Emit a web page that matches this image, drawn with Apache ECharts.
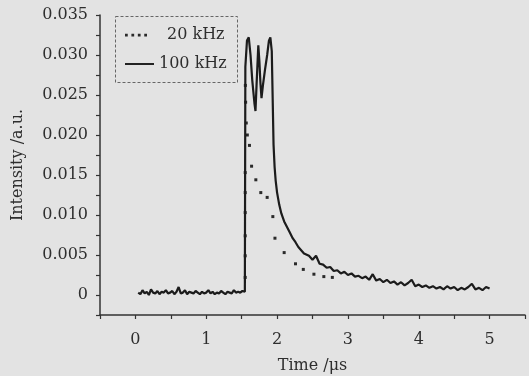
<!DOCTYPE html>
<html>
<head>
<meta charset="utf-8">
<script src="https://cdn.jsdelivr.net/npm/echarts@6/dist/echarts.min.js"></script>
<style>
html,body{margin:0;padding:0;background:#e3e3e3;}
#c{width:529px;height:376px;}
</style>
</head>
<body>
<div id="c"></div>
<script>
// ---- data ----
var xTicks = [0, 1, 2, 3, 4, 5];
var yTicks = [0, 0.005, 0.010, 0.015, 0.020, 0.025, 0.030, 0.035];

var t100 = [0.04,0.07,0.10,0.13,0.16,0.19,0.22,0.25,0.28,0.31,0.34,0.37,0.40,0.43,0.46,0.49,0.52,0.55,0.58,0.61,0.64,0.67,0.70,0.73,0.76,0.79,0.82,0.85,0.88,0.91,0.94,0.97,1.00,1.03,1.06,1.09,1.12,1.15,1.18,1.21,1.24,1.27,1.30,1.33,1.36,1.39,1.42,1.45,1.48,1.51,1.545,
  1.552,1.575,1.60,1.625,1.65,1.68,1.695,1.71,1.735,1.75,1.765,1.78,1.80,1.83,1.86,1.885,1.905,1.925,1.94,1.95,1.965,1.98,
  2.00,2.03,2.06,2.10,2.14,2.18,2.22,2.26,2.30,2.34,2.38,
  2.40,2.45,2.50,2.55,2.60,2.65,2.70,2.75,2.80,2.85,2.90,2.95,3.00,3.05,3.10,3.15,3.20,3.25,3.30,3.35,3.40,3.45,3.50,3.55,3.60,3.65,3.70,3.75,3.80,3.85,3.90,3.95,4.00,4.05,4.10,4.15,4.20,4.25,4.30,4.35,4.40,4.45,4.50,4.55,4.60,4.65,4.70,4.75,4.80,4.85,4.90,4.95,5.00];
var v100 = [0.0003,0.0001,0.0006,0.0002,0.0004,0.0000,0.0007,0.0003,0.0002,0.0005,0.0001,0.0004,0.0003,0.0006,0.0002,0.0003,0.0005,0.0001,0.0004,0.0010,0.0002,0.0003,0.0006,0.0001,0.0004,0.0003,0.0002,0.0005,0.0003,0.0001,0.0004,0.0002,0.0003,0.0006,0.0002,0.0004,0.0001,0.0003,0.0002,0.0005,0.0003,0.0001,0.0004,0.0003,0.0002,0.0006,0.0003,0.0004,0.0003,0.0005,0.0004,
  0.0285,0.0318,0.0322,0.0300,0.0268,0.0240,0.0230,0.0262,0.0312,0.0292,0.0265,0.0246,0.0262,0.0282,0.0300,0.0318,0.0322,0.0305,0.0235,0.0188,0.0160,0.0143,
  0.0128,0.0113,0.0102,0.0092,0.0085,0.0078,0.0071,0.0066,0.0060,0.0056,0.0052,
  0.0051,0.0049,0.0044,0.0049,0.0039,0.0038,0.0034,0.0035,0.0030,0.0031,0.0027,0.0029,0.0025,0.0027,0.0023,0.0024,0.0021,0.0023,0.0019,0.0026,0.0018,0.0020,0.0016,0.0019,0.0015,0.0017,0.0013,0.0016,0.0012,0.0015,0.0019,0.0011,0.0013,0.0010,0.0012,0.0009,0.0011,0.0008,0.0010,0.0007,0.0011,0.0008,0.0010,0.0006,0.0009,0.0007,0.0010,0.0014,0.0007,0.0009,0.0006,0.0010,0.0008];

var t20 = [1.55,1.55,1.55,1.55,1.55,1.55,1.552,1.556,1.565,1.58,1.61,1.64,1.70,1.77,1.86,1.94,1.97,2.10,2.26,2.37,2.52,2.66,2.78];
var v20 = [0.0022,0.0049,0.0074,0.0103,0.0128,0.0153,0.0262,0.0241,0.0215,0.0200,0.0187,0.0161,0.0144,0.0128,0.0122,0.0098,0.0071,0.0053,0.0039,0.0032,0.0026,0.0023,0.0022];

var seriesNames = ['20 kHz', '100 kHz'];

function pairs(t, v){ var o=[]; for (var i=0;i<t.length;i++) o.push([t[i], v[i]]); return o; }
function isIn(list, v){ for (var i=0;i<list.length;i++) if (Math.abs(list[i]-v) < 1e-9) return true; return false; }

var FONT = 'DejaVu Serif';
var TXT = '#2e2e2e';
var chart = echarts.init(document.getElementById('c'), null, {renderer:'canvas'});
chart.setOption({
  animation: false,
  backgroundColor: '#e3e3e3',
  textStyle: {fontFamily: FONT, color: TXT},
  grid: {left: 100, right: 4, top: 15, bottom: 61, containLabel: false, outerBoundsMode: 'none'},
  xAxis: {
    type: 'value', min: -0.5, max: 5.5, interval: 0.5,
    axisLine: {show: true, onZero: false, lineStyle: {color: '#333', width: 1.5}},
    axisTick: {show: true, length: 4, lineStyle: {color: '#333', width: 1.2}},
    splitLine: {show: false},
    axisLabel: {color: TXT, fontFamily: FONT, fontSize: 16, margin: 17,
      formatter: function(v){ return isIn(xTicks, v) ? String(Math.round(v)) : ''; }},
    name: 'Time /μs', nameLocation: 'middle', nameGap: 43,
    nameTextStyle: {color: TXT, fontFamily: FONT, fontSize: 16}
  },
  yAxis: {
    type: 'value', min: -0.0025, max: 0.035, interval: 0.0025,
    axisLine: {show: true, onZero: false, lineStyle: {color: '#333', width: 1.5}},
    axisTick: {show: true, length: 4, lineStyle: {color: '#333', width: 1.2}},
    splitLine: {show: false},
    axisLabel: {color: TXT, fontFamily: FONT, fontSize: 16, margin: 12,
      formatter: function(v){ if (!isIn(yTicks, v)) return ''; return Math.abs(v) < 1e-12 ? '0' : v.toFixed(3); }},
    name: 'Intensity /a.u.', nameLocation: 'middle', nameGap: 74,
    nameTextStyle: {color: TXT, fontFamily: FONT, fontSize: 16}
  },
  legend: [
    {
      data: [{name: seriesNames[0], icon: 'path://M0,0h3v3h-3zM7,0h3v3h-3zM14,0h3v3h-3zM21,0h3v3h-3z'}],
      left: 120, top: 22, itemWidth: 22, itemHeight: 3, itemGap: 0,
      selectedMode: false,
      textStyle: {color: TXT, fontFamily: FONT, fontSize: 16,
        rich: {p: {fontFamily: FONT, fontSize: 16, color: TXT, padding: [0,0,0,15]}}},
      formatter: function(n){ return '{p|' + n + '}'; }
    },
    {
      data: [{name: seriesNames[1], icon: 'path://M0,0h30v2h-30z'}],
      left: 120, top: 51, itemWidth: 29, itemHeight: 2, itemGap: 0,
      selectedMode: false,
      textStyle: {color: TXT, fontFamily: FONT, fontSize: 16}
    }
  ],
  graphic: [{
    type: 'rect', left: 113, top: 14, z: 100,
    shape: {width: 122, height: 66},
    style: {fill: null, stroke: '#666', lineWidth: 1, lineDash: [3, 2]}
  }],
  series: [
    {
      name: seriesNames[0], type: 'line', data: pairs(t20, v20),
      showSymbol: true, showAllSymbol: true, symbol: 'rect', symbolSize: 3,
      itemStyle: {color: '#2a2a2a'}, lineStyle: {width: 0, opacity: 0},
      z: 2, silent: true
    },
    {
      name: seriesNames[1], type: 'line', data: pairs(t100, v100),
      showSymbol: false, symbol: 'none',
      itemStyle: {color: '#1c1c1c'}, lineStyle: {color: '#1c1c1c', width: 2.2},
      z: 3, silent: true
    }
  ]
});
</script>
</body>
</html>
